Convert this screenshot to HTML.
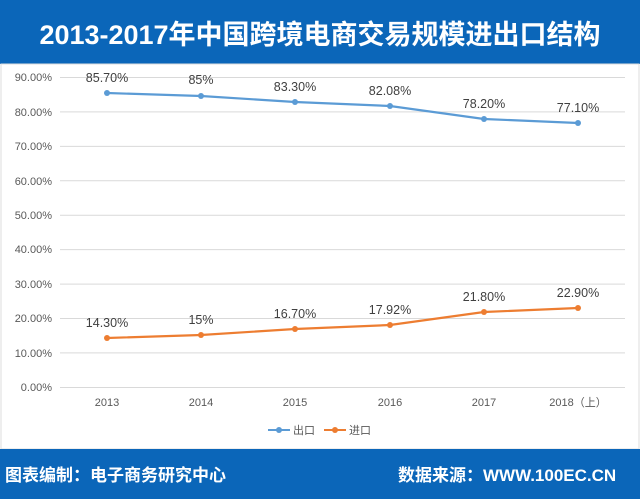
<!DOCTYPE html><html><head><meta charset="utf-8"><style>
body{margin:0;width:640px;height:499px;overflow:hidden;background:#fff;font-family:"Liberation Sans","Noto Sans CJK SC",sans-serif}
.h{position:absolute;left:0;top:0;width:640px;height:64px;background:#0b66b9;color:#fff;font:bold 27px "Liberation Sans","Noto Sans CJK SC",sans-serif;text-align:center;line-height:70px}
.f{position:absolute;left:0;top:449px;width:640px;height:50px;background:#0b66b9;color:#fff;font:bold 17px "Liberation Sans","Noto Sans CJK SC",sans-serif}
</style></head><body>
<div class="h">2013-2017年中国跨境电商交易规模进出口结构</div>
<svg style="position:absolute;left:0;top:0" width="640" height="499" font-family="Liberation Sans, Noto Sans CJK SC, sans-serif">
<rect x="1" y="64" width="638" height="385" fill="none" stroke="#ddd"/>
<g stroke="#d9d9d9" stroke-width="1">
<line x1="60" x2="625" y1="77.5" y2="77.5"/><line x1="60" x2="625" y1="111.9" y2="111.9"/><line x1="60" x2="625" y1="146.4" y2="146.4"/><line x1="60" x2="625" y1="180.8" y2="180.8"/><line x1="60" x2="625" y1="215.2" y2="215.2"/><line x1="60" x2="625" y1="249.6" y2="249.6"/><line x1="60" x2="625" y1="284.1" y2="284.1"/><line x1="60" x2="625" y1="318.5" y2="318.5"/><line x1="60" x2="625" y1="352.9" y2="352.9"/><line x1="60" x2="625" y1="387.5" y2="387.5"/>
</g>
<g font-size="11" fill="#595959" text-anchor="end">
<text x="52" y="81">90.00%</text><text x="52" y="116">80.00%</text><text x="52" y="150">70.00%</text><text x="52" y="185">60.00%</text><text x="52" y="219">50.00%</text><text x="52" y="253">40.00%</text><text x="52" y="288">30.00%</text><text x="52" y="322">20.00%</text><text x="52" y="357">10.00%</text><text x="52" y="391">0.00%</text>
</g>
<g font-size="11" fill="#595959" text-anchor="middle">
<text x="107" y="406">2013</text><text x="201" y="406">2014</text><text x="295" y="406">2015</text><text x="390" y="406">2016</text><text x="484" y="406">2017</text><text x="578" y="406">2018（上）</text>
</g>
<polyline fill="none" stroke="#5b9bd5" stroke-width="2.2" points="107,93 201,96 295,102 390,106 484,119 578,123"/>
<g fill="#5b9bd5"><circle cx="107" cy="93" r="3"/><circle cx="201" cy="96" r="3"/><circle cx="295" cy="102" r="3"/><circle cx="390" cy="106" r="3"/><circle cx="484" cy="119" r="3"/><circle cx="578" cy="123" r="3"/></g>
<polyline fill="none" stroke="#ed7d31" stroke-width="2.2" points="107,338 201,335 295,329 390,325 484,312 578,308"/>
<g fill="#ed7d31"><circle cx="107" cy="338" r="3"/><circle cx="201" cy="335" r="3"/><circle cx="295" cy="329" r="3"/><circle cx="390" cy="325" r="3"/><circle cx="484" cy="312" r="3"/><circle cx="578" cy="308" r="3"/></g>
<g font-size="12.5" fill="#404040" text-anchor="middle">
<text x="107" y="82">85.70%</text><text x="201" y="84">85%</text><text x="295" y="91">83.30%</text><text x="390" y="95">82.08%</text><text x="484" y="108">78.20%</text><text x="578" y="112">77.10%</text>
<text x="107" y="327">14.30%</text><text x="201" y="324">15%</text><text x="295" y="318">16.70%</text><text x="390" y="314">17.92%</text><text x="484" y="301">21.80%</text><text x="578" y="297">22.90%</text>
</g>
<line x1="268" x2="290" y1="430" y2="430" stroke="#5b9bd5" stroke-width="2"/><circle cx="279" cy="430" r="3" fill="#5b9bd5"/>
<text x="293" y="434" font-size="11" fill="#595959">出口</text>
<line x1="324" x2="346" y1="430" y2="430" stroke="#ed7d31" stroke-width="2"/><circle cx="335" cy="430" r="3" fill="#ed7d31"/>
<text x="349" y="434" font-size="11" fill="#595959">进口</text>
</svg>
<div class="f"><span style="position:absolute;left:5px;top:12px">图表编制：电子商务研究中心</span><span style="position:absolute;left:398px;top:12px">数据来源：WWW.100EC.CN</span></div>
</body></html>
